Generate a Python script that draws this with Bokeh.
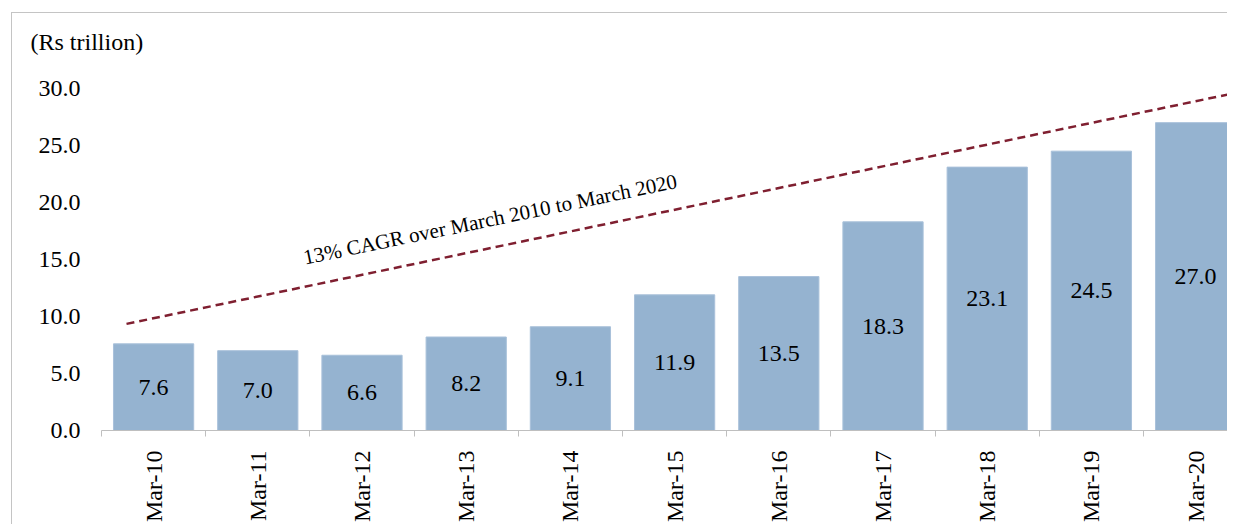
from bokeh.plotting import figure
from bokeh.models import FixedTicker, NumeralTickFormatter, Range1d, Title, ColumnDataSource
from bokeh.core.properties import value
from bokeh.embed import file_html
from bokeh.resources import INLINE

categories = ["Mar-10", "Mar-11", "Mar-12", "Mar-13", "Mar-14", "Mar-15",
              "Mar-16", "Mar-17", "Mar-18", "Mar-19", "Mar-20"]
values = [7.6, 7.0, 6.6, 8.2, 9.1, 11.9, 13.5, 18.3, 23.1, 24.5, 27.0]
y_ticks = [0, 5, 10, 15, 20, 25, 30]
trend_x = [-0.26, 10.5]
trend_y = [9.35, 29.83]
trend_label = "13% CAGR over March 2010 to March 2020"
unit_label = "(Rs trillion)"

FONT = "Liberation Serif"
xs = list(range(len(categories)))

src = ColumnDataSource(dict(
    x=xs,
    top=values,
    mid=[v / 2 for v in values],
    lab=[f"{v:.1f}" for v in values],
))

p = figure(width=1227, height=524,
           x_range=Range1d(-0.5, 10.306), y_range=Range1d(0, 32.45),
           output_backend="svg", toolbar_location=None,
           min_border_left=101, min_border_right=0,
           min_border_top=60, min_border_bottom=93)
p.border_fill_color = None
p.background_fill_color = "white"
p.styles = {
    "background": "linear-gradient(#c4c4c4, #c4c4c4) 11px 12px / 1px 100% no-repeat, "
                  "linear-gradient(#c4c4c4, #c4c4c4) 11px 12px / 100% 1px no-repeat, white",
}

p.title.visible = False
t = Title(text=unit_label, align="left", offset=-71, standoff=12,
          text_font=FONT, text_font_size="24px", text_font_style="normal",
          text_color="#000000")
p.add_layout(t, "above")

p.xgrid.visible = False
p.ygrid.visible = False
p.outline_line_color = None

p.vbar(x="x", top="top", width=0.77, bottom=0, source=src,
       fill_color="#95b3d0", line_color="#a9c1da", line_width=1)

p.text(x="x", y="mid", text="lab", source=src, text_align="center",
       text_baseline="middle", text_font=value(FONT), text_font_size="24px",
       text_color="#000000")

p.line(trend_x, trend_y, line_color="#7f1f30", line_width=2.5, line_dash="8 5")

p.text(x=[1.44], y=[15.15], text=[trend_label], angle=0.203,
       text_align="left", text_baseline="alphabetic",
       text_font=value(FONT), text_font_size="21px", text_color="#000000")

# x axis
xa = p.xaxis[0]
xa.ticker = FixedTicker(ticks=xs, minor_ticks=[i - 0.5 for i in range(len(categories) + 1)])
xa.major_label_overrides = {i: c for i, c in enumerate(categories)}
xa.major_label_orientation = 3.14159265 / 2
xa.major_tick_line_color = None
xa.major_tick_out = 0
xa.major_tick_in = 0
xa.minor_tick_line_color = "#bfbfbf"
xa.minor_tick_out = 6
xa.minor_tick_in = 0
xa.axis_line_color = "#bfbfbf"
xa.major_label_standoff = 14
xa.major_label_text_font = FONT
xa.major_label_text_font_size = "24px"
xa.major_label_text_color = "#000000"

# y axis
ya = p.yaxis[0]
ya.ticker = FixedTicker(ticks=y_ticks)
ya.formatter = NumeralTickFormatter(format="0.0")
ya.axis_line_color = None
ya.major_tick_line_color = None
ya.minor_tick_line_color = None
ya.major_tick_out = 0
ya.major_label_standoff = 21
ya.major_label_text_font = FONT
ya.major_label_text_font_size = "24px"
ya.major_label_text_color = "#000000"

open("out.html", "w").write(file_html(p, INLINE))
